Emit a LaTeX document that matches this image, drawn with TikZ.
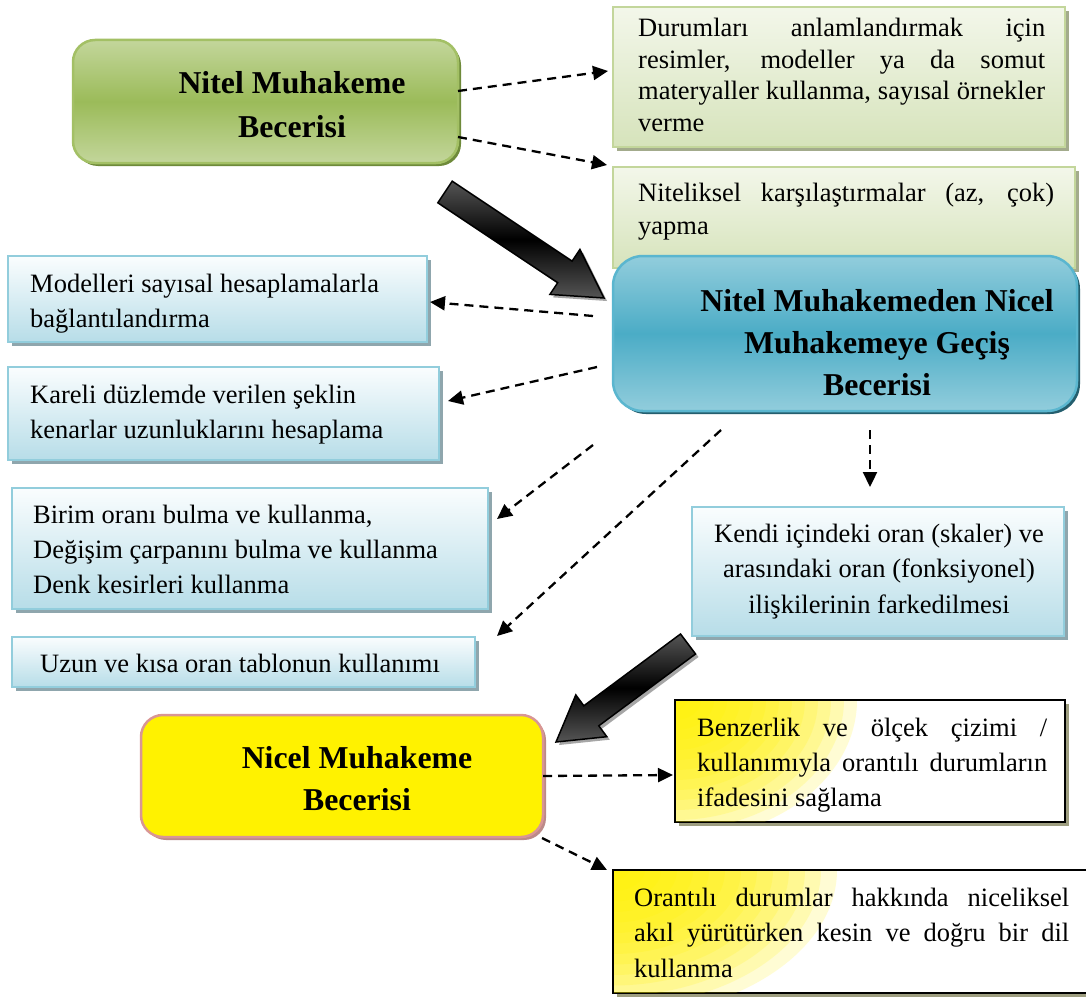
\documentclass[tikz,border=0pt]{standalone}
\usepackage{fontspec}
\setmainfont{Liberation Serif}
\usetikzlibrary{arrows.meta,calc,shadows}
\definecolor{grnlt}{HTML}{C3D69B}
\definecolor{grnmd}{HTML}{9BBB59}
\definecolor{grnbd}{HTML}{A3C065}
\definecolor{grnsh}{HTML}{6E8A3A}
\definecolor{olt}{HTML}{F3F7EA}
\definecolor{olb}{HTML}{D6E3BB}
\definecolor{olbd}{HTML}{C3D69B}
\definecolor{olsh}{HTML}{A3AB8C}
\definecolor{bllt}{HTML}{92CDDC}
\definecolor{blmd}{HTML}{4BACC6}
\definecolor{blbd}{HTML}{5AB6CF}
\definecolor{blsh}{HTML}{245E6E}
\definecolor{lbt}{HTML}{FAFDFE}
\definecolor{lbb}{HTML}{B7DDE8}
\definecolor{lbbd}{HTML}{92CDDC}
\definecolor{lbsh}{HTML}{8FA6AD}
\definecolor{ylbd}{HTML}{D99694}
\definecolor{ylsh}{HTML}{BC8A88}
\definecolor{wysh}{HTML}{9E9E80}
\definecolor{arrgray}{HTML}{555555}
\newcommand\ns{\spaceskip=0pt\xspaceskip=0pt\relax}
\newcommand\fs{\spaceskip=0.25em\xspaceskip=0.25em\relax}
\newcommand\jline[1]{{\ns\hbox to \hsize{#1}}\par}
\tikzset{
  box/.style={inner sep=0pt, outer sep=0pt, rectangle},
  greenbox/.style={box, rounded corners=22pt, draw=grnbd, line width=2.5pt,
    top color=grnlt, bottom color=grnlt, middle color=grnmd,
    general shadow={fill=grnsh, shadow xshift=3pt, shadow yshift=-3pt}},
  olivebox/.style={box, draw=olbd, line width=2.5pt, top color=olt, bottom color=olb,
    general shadow={fill=olsh, shadow xshift=4pt, shadow yshift=-4pt}},
  bluebox/.style={box, rounded corners=30pt, draw=blbd, line width=2.5pt,
    top color=bllt, bottom color=bllt, middle color=blmd,
    general shadow={fill=blsh, shadow xshift=3pt, shadow yshift=-3pt}},
  lightbox/.style={box, draw=lbbd, line width=2.5pt, top color=lbt, bottom color=lbb,
    general shadow={fill=lbsh, shadow xshift=4pt, shadow yshift=-4pt}},
  yellowbox/.style={box, rounded corners=22pt, draw=ylbd, line width=2.5pt, fill=yellow,
    general shadow={fill=ylsh, shadow xshift=3pt, shadow yshift=-3pt}},
  wybox/.style={box, draw=black, line width=2pt, fill=white,
    general shadow={fill=wysh, shadow xshift=4pt, shadow yshift=-4pt}},
  glow/.style={fill=yellow, fill opacity=0.17},
  body/.style={inner sep=0pt, anchor=base west, font=\fontsize{26.5}{35}\selectfont},
  head/.style={inner sep=0pt, anchor=base, align=center, text width=470pt},
  darr/.style={line width=2.3pt, dash pattern=on 9pt off 6pt,
    -{Triangle[length=15pt,width=14pt]}},
  blockarrow/.style={draw=black, line width=1.5pt, line join=miter,
    top color=arrgray, bottom color=arrgray, middle color=black,
    general shadow={fill=gray!70, shadow xshift=3pt, shadow yshift=-3pt}},
}
\begin{document}
\begin{tikzpicture}[x=1pt,y=-1pt]
\useasboundingbox (0,0) rectangle (1086,998);
\fill[white] (0,0) rectangle (1086,998);
\clip (0,0) rectangle (1086,998);

% boxes
\node[greenbox, minimum width=385pt, minimum height=123pt] (green) at (265.5,101.5) {};
\node[olivebox, minimum width=452pt, minimum height=140pt] (A) at (839,77) {};
\node[olivebox, minimum width=462pt, minimum height=101pt] (B) at (844,217.5) {};
\node[bluebox, minimum width=464pt, minimum height=155pt] (blue) at (845,333.5) {};
\node[lightbox, minimum width=419pt, minimum height=86pt] (C) at (217.5,299) {};
\node[lightbox, minimum width=431pt, minimum height=93pt] (D) at (223.5,413.5) {};
\node[lightbox, minimum width=476pt, minimum height=121pt] (E) at (250,548.5) {};
\node[lightbox, minimum width=463pt, minimum height=50pt] (F) at (243.5,662) {};
\node[lightbox, minimum width=372pt, minimum height=129pt] (G) at (878,571.5) {};
\node[yellowbox, minimum width=402pt, minimum height=122pt] (yel) at (342,776) {};
\node[wybox, minimum width=390pt, minimum height=122pt] (H) at (870,761) {};
\node[wybox, minimum width=487pt, minimum height=123pt] (I) at (856.5,931.5) {};

% yellow corner glow of the two framed boxes
\begin{scope}
  \clip ($(H.north west)+(1,1)$) rectangle ($(H.south east)+(-1,-1)$);
  \foreach \k in {1,...,14}
    \fill[glow] (H.north west) ellipse [x radius={13pt*\k}, y radius={10pt*\k}];
\end{scope}
\begin{scope}
  \clip ($(I.north west)+(1,1)$) rectangle ($(I.south east)+(-1,-1)$);
  \foreach \k in {1,...,14}
    \fill[glow] (I.north west) ellipse [x radius={16pt*\k}, y radius={10.5pt*\k}];
\end{scope}

% texts
\node[head, font=\fontsize{31.8}{44}\selectfont\bfseries] (tgreen) at (292,93) {\fs Nitel Muhakeme\\Becerisi};
\node[head, font=\fontsize{31.8}{42}\selectfont\bfseries] (tblue) at (877,311) {\fs Nitel Muhakemeden Nicel\\Muhakemeye Geçiş\\Becerisi};
\node[head, font=\fontsize{31.8}{42}\selectfont\bfseries] (tyel) at (357,768) {\fs Nicel Muhakeme\\Becerisi};

\node[body, text width=407pt, font=\fontsize{26.5}{31.5}\selectfont] (tA) at (638,37)
  {\jline{Durumları anlamlandırmak için}\jline{resimler, modeller ya da somut}\jline{materyaller kullanma, sayısal örnekler}verme};
\node[body, text width=416pt, font=\fontsize{26.5}{33}\selectfont] (tB) at (638,201)
  {\jline{Niteliksel karşılaştırmalar (az, çok)}yapma};
\node[body, text width=395pt, align=left] (tC) at (30,292)
  {\fs Modelleri sayısal hesaplamalarla\\bağlantılandırma};
\node[body, text width=405pt, align=left] (tD) at (30,403)
  {\fs Kareli düzlemde verilen şeklin\\kenarlar uzunluklarını hesaplama};
\node[body, text width=450pt, align=left] (tE) at (33,523)
  {\fs Birim oranı bulma ve kullanma,\\Değişim çarpanını bulma ve kullanma\\Denk kesirleri kullanma};
\node[body, text width=430pt, align=left] (tF) at (40,672)
  {\fs Uzun ve kısa oran tablonun kullanımı};
\node[body, anchor=base, text width=372pt, align=center, font=\fontsize{26.5}{35.5}\selectfont] (tG) at (879,542)
  {\fs Kendi içindeki oran (skaler) ve\\arasındaki oran (fonksiyonel)\\ilişkilerinin farkedilmesi};
\node[body, text width=350pt] (tH) at (697,736)
  {\jline{Benzerlik ve ölçek çizimi /}\jline{kullanımıyla orantılı durumların}\fs ifadesini sağlama};
\node[body, text width=435pt, font=\fontsize{26.5}{35.5}\selectfont] (tI) at (634,906)
  {\jline{Orantılı durumlar hakkında niceliksel}\jline{akıl yürütürken kesin ve doğru bir dil}kullanma};

% dashed connectors
\draw[darr] (green.east |- 0,91) -- ($(A.west |- 0,71)+(-5,0)$);
\draw[darr] (green.east |- 0,137) -- ($(A.west |- 0,165)+(-6,0)$);
\draw[darr] ($(blue.west |- 0,316)+(-20,0)$) -- ($(C.east |- 0,302)+(3,0)$);
\draw[darr] ($(blue.west |- 0,367)+(-16,0)$) -- ($(D.east |- 0,401)+(9,0)$);
\draw[darr] ($(blue.west |- 0,445)+(-20,0)$) -- ($(E.east |- 0,519)+(9,0)$);
\draw[darr] ($(blue.south west)+(108,19)$) -- ($(F.north east)+(22,-1)$);
\draw[darr] ($(blue.south)+(25,19)$) -- ($(G.north)+(-8,-20)$);
\draw[darr] (yel.east |- 0,776) -- ($(H.west |- 0,775)+(-2,0)$);
\draw[darr] ($(yel.south east)+(-1,1)$) -- ($(I.north west)+(-6,0)$);

% block arrows
\path[blockarrow] (437.8,202.8) -- (557.7,282.7) -- (549.9,294.4) -- (604,298)
  -- (579.9,249.4) -- (572.1,261.1) -- (452.2,181.2) -- cycle;
\path[blockarrow] (680.5,634) -- (583.8,705.8) -- (575.8,694.9) -- (556,742)
  -- (606.8,736.7) -- (598.8,725.8) -- (695.5,654) -- cycle;
\end{tikzpicture}
\end{document}
